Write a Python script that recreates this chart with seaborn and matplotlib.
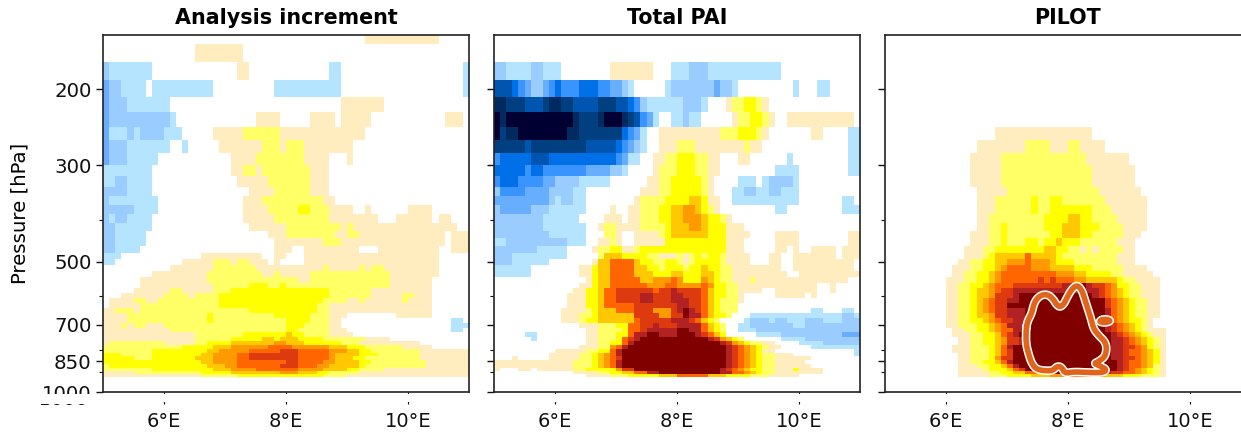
import numpy as np
import seaborn as sns
from matplotlib import pyplot as plt
from matplotlib import colors, patheffects, ticker
from matplotlib.patches import Rectangle

titles = ["Analysis increment", "Total PAI", "PILOT"]
lon_edges = np.linspace(5, 11, 61)
p_edges = [150, 157.4, 173.6, 190.5, 208, 225.9, 244.6, 262, 280.4, 299.4, 318, 335.6,
           353, 370, 388, 407, 424, 442, 460, 476.5, 492, 509, 526, 543, 559.5, 576,
           592, 608, 624, 641, 658, 676, 694, 713, 728, 745, 761, 779, 796, 811, 827,
           845, 862, 879, 894, 910, 922, 1000]

# colour classes, i..a negative, 0 white, 1..9 positive
class_names = "ihgfedcba0123456789"
class_colors = ["#000033", "#002a60", "#004080", "#0055b0", "#0070e8", "#3a94ff", "#68aefe",
                "#9accff", "#b4e4ff", "#ffffff", "#ffedc0", "#ffff66", "#ffff00", "#ffc800",
                "#ff9900", "#ff6600", "#dd3a10", "#b22222", "#800000"]

# rows top to bottom, run lengths along longitude
increment_rows = [
    "0*43 1*12 0*5",
    "0*15 1*8",
    "b1 a7 0*14 1*2 0*13 a2 0*20 a1",
    "c1 b2 a4 0*1 a10 0*10 a11 0*20 a1",
    "c1 b3 a7 0*28 1*7 0*14",
    "c1 b10 a1 0*13 1*4 0*5 1*4 0*1 1*5 0*12 1*3 0*1",
    "c1 a3 b1 a1 b4 a3 0*5 1*5 2*6 1*14 0*17",
    "c1 b3 a7 0*2 a1 0*5 1*7 2*3 1*1 2*3 1*8 0*19",
    "c1 b3 a5 0*12 1*4 2*8 1*4 0*3 1*1 0*19",
    "a8 0*13 1*2 2*2 1*1 2*8 1*3 0*23",
    "a2 b2 a4 0*14 1*5 2*7 1*3 0*23",
    "b4 a4 0*16 1*4 2*6 1*3 0*23",
    "b1 a8 0*14 1*3 2*10 1*2 0*22",
    "b5 a4 0*14 1*4 2*5 3*2 2*3 1*4 0*2 1*1 0*6 1*4 0*6",
    "b1 a1 b2 a4 0*15 1*5 2*9 1*8 0*3 1*6 0*1 1*2 0*3",
    "b2 a6 0*16 1*6 2*9 1*1 2*1 1*17 0*2",
    "b2 a5 0*20 1*3 2*8 1*2 2*2 1*14 0*1 1*3",
    "b2 a5 0*21 1*8 2*3 1*17 0*1 1*3",
    "b2 a4 0*22 1*3 0*2 1*9 0*3 1*10 0*2 1*3",
    "a3 0*13 1*10 0*2 1*2 0*3 1*22 0*5",
    "a2 0*11 1*5 2*3 1*1 2*2 1*3 0*1 1*1 0*4 1*22 0*5",
    "0*11 1*7 2*7 1*11 2*1 1*5 2*1 1*1 2*2 1*9 0*5",
    "0*8 1*9 2*9 1*2 2*1 1*5 2*13 1*8 0*5",
    "0*6 1*11 2*15 1*2 2*13 1*7 0*6",
    "0*6 1*12 2*6 3*3 2*2 3*1 2*17 1*7 0*6",
    "0*5 1*6 2*2 1*5 2*3 3*16 2*7 1*10 0*6",
    "0*3 1*7 2*4 1*1 2*4 3*18 2*7 1*5 2*2 1*3 0*6",
    "0*1 1*4 2*2 1*2 2*10 3*17 2*4 1*2 2*1 1*6 2*1 1*4 0*6",
    "0*1 1*5 2*13 3*16 2*2 1*17 0*6",
    "1*2 2*3 1*1 2*18 3*11 2*2 1*17 0*6",
    "1*4 2*13 3*1 2*10 3*6 2*3 1*3 0*8 1*6 0*6",
    "1*4 2*13 3*1 2*12 3*4 2*3 1*2 0*18 a2 0*1",
    "1*3 2*1 1*1 2*2 1*3 2*20 3*3 2*4 1*2 0*18 a3",
    "1*11 2*19 3*2 2*5 1*3 0*17 a2 0*1",
    "1*15 2*8 3*7 4*1 3*2 2*4 1*4 0*19",
    "1*15 2*6 3*5 4*2 3*1 4*3 3*4 2*7 1*4 0*13",
    "1*1 2*9 1*5 2*2 3*4 4*7 5*2 4*3 3*6 2*3 1*10 0*8",
    "2*13 3*5 4*3 5*6 6*4 5*6 4*3 3*3 2*6 1*5 0*6",
    "2*8 3*9 4*2 5*5 6*5 7*3 6*5 5*3 4*2 3*2 2*8 1*8",
    "3*3 2*5 3*8 4*2 5*4 6*2 7*8 6*5 5*1 4*4 3*3 2*7 1*8",
    "3*5 2*3 3*7 4*3 5*4 6*2 7*8 6*5 5*1 4*3 3*2 2*9 1*8",
    "3*16 4*2 5*4 6*8 7*2 6*4 5*2 4*4 3*2 2*9 1*7",
    "2*1 3*16 4*3 5*2 6*7 7*3 6*3 5*2 4*5 3*1 2*10 1*7",
    "2*8 3*10 4*3 5*4 6*7 5*4 4*4 3*2 2*4 1*14",
    "1*5 2*11 3*5 4*8 5*3 4*3 3*2 2*5 1*18",
    "1*16 2*6 3*14 2*4 1*20",
    "0*60",
]

pai_rows = [
    "0*60",
    "0*60",
    "b2 a4 b2 a3 0*8 1*7 0*3 a3 b3 a12 0*13",
    "f3 e1 d1 c1 b2 c1 d1 e1 d3 e3 d2 c2 b1 a1 0*5 a1 b7 c1 b2 a1 0*9 a1 0*3 a2 0*5",
    "h2 g3 f3 g1 h2 g2 f4 g3 f2 e1 d1 b1 a6 b3 a1 0*3 1*1 2*2 3*2 2*1 1*1 0*15",
    "i1 h1 i11 h1 g3 h1 i3 h1 g1 f1 d1 c1 a1 0*2 a2 b1 a2 0*5 1*1 2*2 3*2 2*1 1*1 0*2 1*11 0*1",
    "i1 g1 h2 i8 h2 g7 e1 d1 c1 a1 0*2 1*10 2*3 3*3 2*1 1*1 0*7 1*2 0*4 a2",
    "g5 f1 g9 f5 e1 d1 c1 b1 a1 0*2 1*3 2*3 1*8 2*1 1*2 0*14 a2",
    "d1 e5 f3 e11 d1 c1 a2 0*2 1*2 2*2 3*3 2*2 1*2 0*3 1*2 0*6 a1 0*9 a2",
    "e5 d1 e2 d7 c4 b2 a1 0*4 1*1 2*3 3*3 2*2 1*2 0*9 a4 0*8 a2",
    "d1 e3 d4 c2 b4 a5 0*6 1*2 2*2 3*5 2*1 1*1 0*4 a3 0*1 a1 b4 a1 0*10",
    "b1 d4 c4 b4 a2 0*9 1*3 2*2 3*5 2*1 1*1 0*3 a2 b2 a2 b2 a3 0*10",
    "c9 b1 a1 b2 a2 0*8 1*1 2*4 3*4 4*2 3*1 1*2 0*2 a11 0*7 a2 0*1",
    "b1 c5 b3 a6 0*4 1*1 0*2 1*2 2*3 3*2 4*2 5*2 4*1 3*1 2*1 1*1 0*9 a2 0*9 a3",
    "b8 a6 0*4 1*3 0*1 1*2 2*3 3*2 4*2 5*3 4*1 3*2 2*1 1*1 0*21",
    "b8 a7 0*2 1*1 2*2 1*4 2*4 3*1 4*3 5*2 4*1 3*3 1*3 0*19",
    "b9 a6 0*3 2*2 1*1 0*2 1*4 2*1 3*1 4*6 3*3 1*4 0*4 1*4 0*8 1*2",
    "a2 b10 a3 0*2 1*2 2*1 1*1 0*2 1*5 3*10 1*3 0*5 1*4 0*8 1*2",
    "b7 a5 0*4 1*1 2*2 3*2 1*2 2*1 3*14 1*3 0*5 1*2 0*1 1*1 0*2 1*4 0*1 1*3",
    "b3 a9 0*5 2*1 4*3 3*4 2*2 1*3 2*1 1*1 2*1 3*1 2*1 3*2 2*1 1*4 0*3 1*2 0*2 1*7 0*1 1*3",
    "b3 a6 0*7 1*1 4*2 6*4 4*1 3*2 2*2 3*2 2*1 1*1 2*1 3*4 2*1 1*4 0*3 1*2 0*2 1*10 0*1",
    "a6 0*8 1*2 3*1 4*2 6*4 4*2 3*2 2*1 3*3 2*1 3*2 4*1 3*2 2*2 1*8 0*2 1*10 0*1",
    "a6 0*8 1*2 3*1 4*2 6*4 4*3 3*3 4*2 3*3 4*2 3*1 2*2 1*9 0*2 1*10",
    "0*15 1*1 3*1 4*2 6*5 4*2 5*3 6*1 5*1 3*3 5*1 4*1 3*1 2*2 1*3 2*1 1*15 0*2",
    "0*14 1*2 3*1 4*2 6*6 5*3 6*2 5*4 6*1 5*1 3*2 2*2 1*13 0*2 1*1 0*4",
    "0*13 1*2 3*2 4*1 6*2 7*6 6*1 7*2 8*1 7*4 6*1 4*1 3*2 2*2 1*4 0*2 1*7 0*2 1*1 0*4",
    "0*12 1*3 3*2 4*1 6*2 7*4 8*2 7*3 8*2 7*3 6*1 4*1 3*2 2*2 1*1 0*5 1*5 0*1 1*1 0*7",
    "0*12 1*3 3*2 4*1 6*2 7*4 8*2 7*3 8*3 7*2 6*1 4*1 3*1 2*3 1*1 0*19",
    "0*12 1*3 3*2 4*1 6*5 7*7 8*2 7*2 6*1 4*1 3*1 2*3 0*20",
    "0*11 1*4 2*1 3*1 4*3 6*3 7*3 5*3 7*1 8*1 9*1 8*1 7*1 6*1 4*1 3*1 2*3 0*12 a2 0*3 a2 0*1",
    "0*11 1*3 2*2 3*1 4*6 7*4 5*2 7*2 9*1 8*2 6*1 4*1 3*2 2*1 0*3 a15 b2 a1",
    "0*11 1*3 2*1 3*2 4*6 6*1 7*5 8*3 7*1 6*1 4*1 3*1 2*1 0*4 a1 b3 a1 b2 a3 b3 a3 b3",
    "0*14 1*3 2*3 3*2 6*2 7*2 8*1 7*3 8*4 6*1 4*1 3*1 2*1 0*2 a2 b7 a2 b9",
    "0*15 1*2 2*4 3*1 6*2 7*1 8*5 9*2 8*2 6*1 4*1 3*1 2*1 0*2 a3 b17",
    "0*5 a2 0*8 1*2 2*3 3*2 6*1 8*2 9*2 8*3 9*3 8*1 7*1 6*1 4*1 3*1 0*5 a4 b10 c3",
    "0*6 a1 0*8 1*2 2*3 3*1 6*1 7*1 8*1 9*11 8*1 7*1 5*1 4*1 3*1 2*1 0*6 a4 b9",
    "0*15 1*2 2*2 3*2 6*1 8*1 9*14 8*1 7*1 5*1 4*1 3*1 2*2 1*2 0*4 a4 b6",
    "0*14 1*3 2*2 5*1 6*1 8*1 9*16 8*1 7*1 6*1 5*1 4*1 3*1 2*1 1*2 0*5 a8",
    "0*10 1*5 2*2 3*2 6*1 8*1 9*17 8*1 7*1 6*1 5*1 4*1 3*1 1*2 0*13 a1",
    "0*9 1*5 2*2 3*1 4*1 5*1 6*1 8*1 9*17 8*1 7*1 6*1 5*1 4*1 3*1 2*2 1*3 0*10 a1",
    "0*3 1*1 0*5 1*5 2*2 3*1 4*1 5*1 6*1 7*1 9*17 8*1 7*1 6*1 5*1 4*1 3*1 2*2 1*6 0*8",
    "1*13 2*3 3*1 4*1 5*1 6*1 8*1 9*17 8*1 7*1 6*1 5*1 4*1 3*1 2*2 1*5 0*9",
    "1*13 2*3 3*1 4*1 5*1 6*1 8*1 9*17 8*1 7*1 6*1 5*1 4*1 3*1 2*2 1*6 0*8",
    "1*1 0*3 1*2 0*1 1*6 2*2 3*5 5*1 7*2 9*14 8*1 7*1 6*1 5*1 4*1 3*2 2*2 1*3 3*1 1*4 0*6",
    "0*13 1*4 2*2 3*2 4*2 6*2 8*2 9*10 8*2 6*2 5*1 4*1 3*1 2*2 1*8 0*6",
    "0*15 1*4 2*3 3*5 4*3 6*5 4*3 3*4 2*3 1*5 0*10",
    "0*60",
]

pilot_rows = [
    "0*60", "0*60", "0*60", "0*60", "0*60", "0*60",
    "0*18 1*16 0*26",
    "0*15 1*8 2*4 1*3 2*2 1*4 0*24",
    "0*14 1*5 2*14 1*7 0*20",
    "0*14 1*5 2*15 1*7 0*19",
    "0*14 1*5 2*15 1*7 0*19",
    "0*15 1*5 2*15 1*7 0*18",
    "0*15 1*3 2*6 3*1 2*2 3*2 2*7 1*7 0*17",
    "0*15 1*3 2*6 3*1 2*2 3*7 2*3 1*6 0*17",
    "0*15 1*2 2*9 3*4 4*2 3*2 2*4 1*5 0*17",
    "0*15 1*2 2*2 3*1 2*6 3*3 4*3 3*3 2*4 1*4 0*17",
    "0*14 1*3 2*2 3*1 2*7 3*2 4*3 3*2 2*5 1*3 0*18",
    "0*14 1*3 2*2 3*1 2*3 3*2 2*1 3*2 4*1 3*3 2*6 1*3 0*19",
    "0*13 1*3 2*2 3*8 4*2 3*2 2*2 1*1 2*1 1*1 2*4 1*2 0*19",
    "0*13 1*3 2*1 3*1 4*5 6*1 4*4 3*1 2*9 1*3 0*19",
    "0*12 1*2 2*2 3*2 4*2 5*3 6*1 5*3 4*1 3*3 2*7 1*3 0*19",
    "0*11 1*3 2*2 3*2 4*1 5*1 6*4 5*3 4*4 3*3 2*5 1*4 0*17",
    "0*11 1*2 2*2 3*2 4*1 5*1 6*9 5*3 4*2 3*4 2*2 1*5 0*16",
    "0*10 1*3 2*2 3*2 4*1 5*1 6*6 7*1 6*1 7*1 6*3 5*2 4*5 3*1 2*2 1*4 0*15",
    "0*10 1*2 2*2 3*2 4*1 5*1 6*3 7*8 8*2 9*2 8*1 7*2 6*1 5*1 3*2 2*2 1*3 0*15",
    "0*10 1*2 2*2 3*1 4*2 5*1 6*1 7*2 8*11 9*1 8*2 7*1 6*1 5*1 4*1 3*1 2*2 1*3 0*15",
    "0*10 1*2 2*2 3*1 4*2 5*1 7*3 8*1 9*12 8*1 7*1 6*1 5*1 4*1 3*1 2*2 1*3 0*15",
    "0*10 1*2 2*2 3*1 4*1 5*1 6*1 7*2 8*2 9*14 7*1 6*1 5*1 4*1 3*1 2*2 1*2 0*15",
    "0*10 1*2 2*2 3*1 4*1 5*1 6*1 7*2 9*16 7*1 6*1 5*1 4*1 3*1 2*2 1*2 0*15",
    "0*10 1*2 2*2 3*1 4*1 5*1 6*1 7*2 8*3 9*13 8*1 6*1 5*1 4*1 3*1 2*2 1*2 0*15",
    "0*10 1*2 2*2 3*1 4*2 5*1 7*2 8*3 9*13 8*1 6*1 5*1 4*1 3*1 2*2 1*2 0*15",
    "0*10 1*2 2*2 3*2 4*1 5*1 6*1 7*2 8*2 9*12 8*1 7*1 6*1 5*1 4*1 3*2 2*1 1*1 0*16",
    "0*10 1*2 2*3 3*2 4*1 5*1 6*1 8*3 9*13 8*1 7*1 6*1 5*1 4*1 3*1 2*1 1*1 0*16",
    "0*11 1*2 2*2 3*2 4*1 5*1 6*2 8*2 9*13 8*1 7*1 6*1 5*1 4*1 3*1 2*1 1*3 0*14",
    "0*11 1*3 2*2 3*2 4*1 6*1 7*1 8*1 9*15 8*1 7*1 6*1 5*1 4*1 3*1 2*1 1*2 0*14",
    "0*12 1*2 2*2 3*2 4*1 5*1 7*2 8*1 9*14 8*2 7*1 6*1 5*1 4*1 3*1 2*1 1*1 0*14",
    "0*12 1*2 2*2 3*2 4*1 5*1 7*2 8*1 9*14 8*2 7*1 6*1 5*1 4*1 3*1 2*1 1*1 0*14",
    "0*11 1*3 2*3 3*1 4*1 6*1 8*1 9*16 8*2 7*2 6*1 5*1 3*1 2*1 1*1 0*14",
    "0*11 1*3 2*3 3*1 4*1 6*1 7*1 9*16 8*2 7*1 6*2 5*1 4*1 3*1 1*1 0*14",
    "0*12 1*2 2*3 3*1 4*1 6*1 7*1 9*16 8*2 7*1 6*2 5*1 4*1 3*1 1*1 0*14",
    "0*12 1*2 2*3 3*1 5*1 7*2 9*16 8*2 7*2 6*1 5*1 4*1 3*1 1*1 0*14",
    "0*12 1*2 2*2 3*2 4*1 6*1 8*1 9*17 8*1 7*1 6*2 5*1 4*1 3*1 1*1 0*14",
    "0*12 1*3 2*2 3*2 4*1 6*1 8*1 9*16 8*1 7*1 6*2 5*1 4*1 2*1 1*1 0*14",
    "0*12 1*4 2*1 3*3 4*1 6*1 7*1 9*15 8*1 7*1 6*1 5*1 4*1 3*1 2*1 1*1 0*14",
    "0*12 1*5 2*2 3*2 4*2 6*2 7*1 8*1 9*9 8*1 7*2 6*2 5*1 4*1 3*1 2*1 1*1 0*14",
    "0*12 1*5 2*3 3*4 4*3 5*3 6*4 5*2 4*3 3*3 2*3 1*1 0*14",
    "0*60",
]

contour_lon = [7.312, 7.334, 7.405, 7.443, 7.514, 7.623, 7.732, 7.842, 7.924, 7.989, 8.06, 8.142,
               8.224, 8.279, 8.361, 8.416, 8.498, 8.607, 8.634, 8.607, 8.498, 8.426, 8.525, 8.634,
               8.58, 8.361, 8.088, 7.951, 7.896, 7.825, 7.749, 7.623, 7.487, 7.405, 7.35, 7.312, 7.312]
contour_p = [719, 688, 658, 624, 603, 594, 603, 638, 630, 603, 580, 566,
             580, 613, 664, 713, 739, 765, 793, 829, 851, 859, 871, 887,
             902, 902, 898, 906, 877, 871, 893, 893, 887, 859, 814, 772, 719]
blob_lon = [8.525, 8.59, 8.678, 8.689, 8.607, 8.525, 8.525]
blob_p = [685, 678.5, 682, 687, 692, 689, 685]

major_p = [200, 300, 500, 700, 850, 1000]
minor_p = [400, 600, 800, 900]
lon_ticks = [6, 8, 10]
lon_labels = ["6°E", "8°E", "10°E"]
cut_label = "5000"


def decode(rows):
    out = []
    for row in rows:
        vals = []
        for t in row.split():
            vals += [class_names.index(t[0])] * int(t[1:].lstrip("*"))
        vals = (vals + [class_names.index("0")] * 60)[:60]
        out.append(vals)
    return np.array(out)


def smooth(x, y):
    pts = np.column_stack([x, y])
    for i in range(2):
        a = pts[:-1]
        b = pts[1:]
        new = np.empty((2 * len(a), 2))
        new[0::2] = 0.75 * a + 0.25 * b
        new[1::2] = 0.25 * a + 0.75 * b
        pts = np.vstack([new, new[0]])
    return pts[:, 0], pts[:, 1]


sns.set_theme(style="ticks", rc={"text.color": "black", "axes.labelcolor": "black",
                                 "xtick.color": "#111111", "ytick.color": "#111111",
                                 "axes.edgecolor": "#222222"})
plt.rcParams["font.family"] = "DejaVu Sans"
palette = sns.color_palette(class_colors)
cmap = colors.ListedColormap(palette)
norm = colors.BoundaryNorm(np.arange(len(class_names) + 1) - 0.5, len(class_names))

W, H = 1241, 436
fig = plt.figure(figsize=(W / 100, H / 100), dpi=100)
lefts = [103, 494, 885]
all_rows = [increment_rows, pai_rows, pilot_rows]

for i in range(3):
    ax = fig.add_axes([lefts[i] / W, (H - 392) / H, 366 / W, 357 / H])
    ax.pcolormesh(lon_edges, p_edges, decode(all_rows[i]), cmap=cmap, norm=norm, linewidth=0)
    ax.set_yscale("log")
    ax.set_ylim(1000, 150)
    ax.set_xlim(5, 11)
    ax.yaxis.set_major_locator(ticker.FixedLocator(major_p))
    ax.yaxis.set_minor_locator(ticker.FixedLocator(minor_p))
    ax.yaxis.set_major_formatter(ticker.FixedFormatter([str(p) for p in major_p]))
    ax.yaxis.set_minor_formatter(ticker.NullFormatter())
    ax.set_xticks(lon_ticks)
    ax.set_xticklabels(lon_labels)
    ax.tick_params(axis="y", which="major", length=4.8, width=1, labelsize=14.2, pad=3.5,
                   labelleft=i == 0)
    ax.tick_params(axis="y", which="minor", length=2.6, width=0.8)
    ax.tick_params(axis="x", length=8.6, width=0.8, labelsize=14, pad=6)
    for s in ax.spines.values():
        s.set_linewidth(1.2)
    ax.set_title(titles[i], fontweight="bold", fontsize=14.9, pad=8)
    if i == 0:
        ax.set_ylabel("Pressure [hPa]", fontsize=14.2)
        ax.yaxis.set_label_coords(-0.2, 0.5)
    if i == 2:
        for x, y in [smooth(contour_lon, contour_p), smooth(blob_lon, blob_p)]:
            ax.plot(x, y, color="#e0641a", lw=4, solid_capstyle="round",
                    path_effects=[patheffects.withStroke(linewidth=6.2, foreground="white")])

# the reference has a cut through the lower tick labels
fig.text(88 / W, (H - 403) / H, cut_label, ha="right", va="top", fontsize=14.2, color="#111111", zorder=5)
fig.add_artist(Rectangle((0, (H - 401.5) / H), 1, 8 / H, transform=fig.transFigure,
                         facecolor="white", edgecolor="none", zorder=10))
fig.add_artist(Rectangle((0, 0), 95 / W, (H - 404.5) / H, transform=fig.transFigure,
                         facecolor="white", edgecolor="none", zorder=10))

fig.savefig("out.png", dpi=100)
